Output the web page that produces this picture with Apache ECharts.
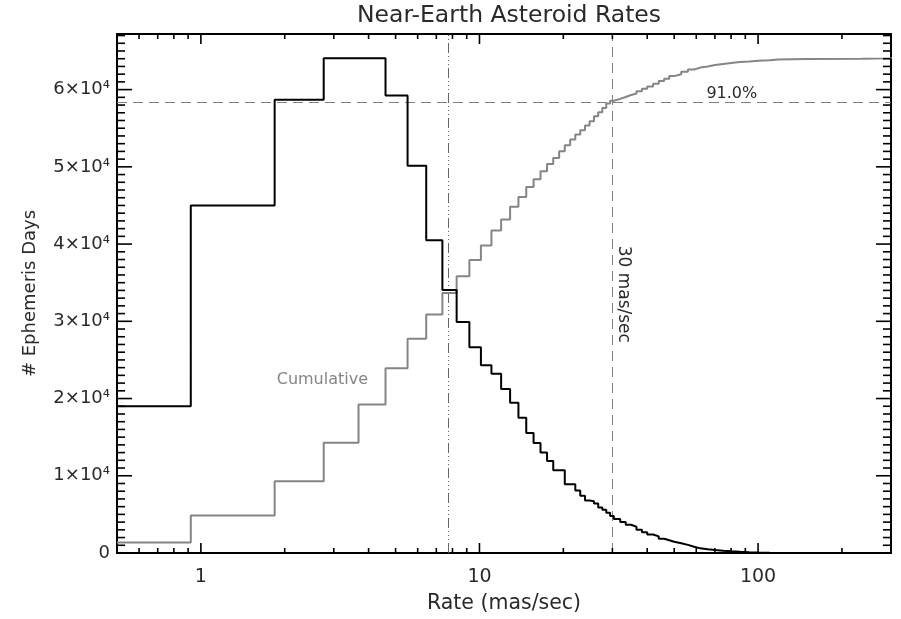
<!DOCTYPE html>
<html>
<head>
<meta charset="utf-8">
<script src="https://cdn.jsdelivr.net/npm/echarts@6/dist/echarts.min.js"></script>
<style>html,body{margin:0;padding:0;background:#fff}#c{width:901px;height:619px}</style>
</head>
<body>
<div id="c"></div>
<script>
// ---- data ----
const titleText = 'Near-Earth Asteroid Rates';
const xTitle = 'Rate (mas/sec)';
const yTitle = '# Ephemeris Days';

// differential histogram (left bin edges, mas/sec) and counts
const histEdges = [0.5, 0.92, 1.84, 2.76, 3.68, 4.6, 5.52, 6.44, 7.36, 8.28, 9.2, 10.12, 11.04, 11.96, 12.88, 13.8, 14.72, 15.64, 16.56, 17.48, 18.4, 19.32, 20.24, 21.16, 22.08, 23.0, 23.92, 24.84, 25.76, 26.68, 27.6, 28.52, 29.44,
  30.36, 32, 33.5, 35, 36.6, 38.3, 40, 42, 44, 46, 48, 50, 53, 56, 59, 62, 66, 70, 75, 80, 86, 93, 100, 110];
const histCounts = [19000, 45000, 58700, 64050, 64050, 59250, 50150, 40500, 34050, 29900, 26650, 24300, 23200, 21250, 19450, 17500, 15550, 14250, 13000, 11900, 10700, 10700, 8900, 8900, 8100, 7400, 6800, 6700, 6400, 5900, 5600, 5200, 4800,
  4400, 4000, 3650, 3400, 3000, 2700, 2400, 2150, 1850, 1650, 1450, 1250, 1050, 800, 600, 480, 380, 300, 230, 160, 100, 70, 40, 0];

// cumulative curve (scaled), left edges and values
const cumEdges = [0.5, 0.92, 1.84, 2.76, 3.68, 4.6, 5.52, 6.44, 7.36, 8.28, 9.2, 10.12, 11.04, 11.96, 12.88, 13.8, 14.72, 15.64, 16.56, 17.48, 18.4, 19.32, 20.24, 21.16, 22.08, 23.0, 23.92, 24.84, 25.76, 26.68, 27.6, 28.52, 29.44,
  30.36, 32, 33.5, 35, 36.6, 38.3, 40, 42, 44, 46, 48, 50, 53, 56, 59, 62, 66, 70, 75, 80, 86, 93, 100, 110, 118, 150, 236, 300];
const cumValues = [1370, 4850, 9290, 14270, 19220, 23920, 27730, 30870, 33680, 35830, 37950, 39830, 41760, 43170, 44820, 46080, 47380, 48400, 49420, 50380, 51160, 52010, 52790, 53530, 54180, 54730, 55340, 55900, 56540, 57060, 57630, 58190, 58550,
  58800, 59050, 59300, 59500, 59800, 60100, 60400, 60750, 61100, 61400, 61750, 62000, 62300, 62600, 62850, 63000, 63180, 63330, 63450, 63560, 63650, 63740, 63810, 63900, 63960, 64000, 64070, 64200];

// reference lines
const medianRate = 7.72;
const limitRate = 30;
const limitLevel = 58300;

// axis ranges & ticks
const xMin = 0.5, xMax = 300;
const yMin = 0, yMax = 67200, yStep = 10000, yMinorStep = 1000;
const xMajorTicks = [1, 10, 100];
const xMinorTicks = [0.6, 0.7, 0.8, 0.9, 2, 3, 4, 5, 6, 7, 8, 9, 20, 30, 40, 50, 60, 70, 80, 90, 200];

// annotations
const annotTexts = ['91.0%', '30 mas/sec', 'Cumulative'];
const annotRates = [80.5, 30, 2.73];
const annotDays = [59400, 33500, 22460];

// ---- chart ----
const FONT = 'DejaVu Sans';
const TXT = '#2a2a2a';
const GRAY = '#858585';

// y tick values (major + minor) for the inward tick marks
const yTickVals = [];
for (let v = yMinorStep; v < yMax; v += yMinorStep) yTickVals.push(v);

const chart = echarts.init(document.getElementById('c'), null, {renderer: 'canvas'});

function xAxisCfg(pos, showLabels) {
  return {
    type: 'log', logBase: 10, min: xMin, max: xMax, position: pos,
    axisLine: {show: true, onZero: false, lineStyle: {color: '#000', width: 2}},
    axisTick: {show: false}, minorTick: {show: false}, splitLine: {show: false},
    axisLabel: {show: showLabels, showMinLabel: false, showMaxLabel: false, color: TXT, fontSize: 19, fontFamily: FONT, margin: 15},
    name: showLabels ? xTitle : '',
    nameLocation: 'middle', nameGap: 40,
    nameTextStyle: {color: TXT, fontSize: 20.5, fontFamily: FONT}
  };
}
function yAxisCfg(pos, showLabels) {
  return {
    type: 'value', min: yMin, max: yMax, interval: yStep, position: pos,
    axisLine: {show: true, onZero: false, lineStyle: {color: '#000', width: 2}},
    axisTick: {show: false}, minorTick: {show: false}, splitLine: {show: false},
    axisLabel: {show: showLabels, showMaxLabel: false, color: TXT, fontSize: 18, fontFamily: FONT, margin: 7,
      formatter: v => v === 0 ? '0' : (v / 10000) + '×10⁴'},
    name: showLabels ? yTitle : '',
    nameLocation: 'middle', nameGap: 78,
    nameTextStyle: {color: TXT, fontSize: 18, fontFamily: FONT}
  };
}

function tickLine(x1, y1, x2, y2) {
  return {type: 'line', shape: {x1: x1, y1: y1, x2: x2, y2: y2}, style: {stroke: '#000', lineWidth: 1.6, fill: null}};
}

const option = {
  animation: false,
  backgroundColor: '#fff',
  textStyle: {fontFamily: FONT},
  title: {
    text: titleText, left: 504, textAlign: 'center', top: -1,
    textStyle: {fontSize: 23.5, fontWeight: 'normal', color: TXT, fontFamily: FONT}
  },
  grid: {left: 117, top: 34, width: 774, height: 520, containLabel: false},
  xAxis: [xAxisCfg('bottom', true), xAxisCfg('top', false)],
  yAxis: [yAxisCfg('left', true), yAxisCfg('right', false)],
  series: [
    {
      type: 'line', step: 'end', xAxisIndex: 0, yAxisIndex: 0,
      data: cumEdges.map((e, i) => [e, cumValues[i]]),
      symbol: 'none', clip: true, z: 3,
      lineStyle: {color: GRAY, width: 2},
      markLine: {
        silent: true, symbol: 'none', label: {show: false}, z: 2,
        data: [
          {xAxis: medianRate, lineStyle: {color: '#666', width: 1, type: [10, 3, 1, 3, 1, 3, 1, 3]}},
          {xAxis: limitRate, lineStyle: {color: '#808080', width: 1, type: [10, 6]}},
          {yAxis: limitLevel, lineStyle: {color: '#808080', width: 1, type: [10, 6]}}
        ]
      }
    },
    {
      type: 'line', step: 'end', xAxisIndex: 0, yAxisIndex: 0,
      data: histEdges.map((e, i) => [e, histCounts[i]]),
      symbol: 'none', clip: true, z: 4,
      lineStyle: {color: '#000', width: 2}
    },
    {
      // x-axis tick marks (bottom and top), inward
      type: 'custom', xAxisIndex: 0, yAxisIndex: 0, silent: true, clip: false, z: 10,
      data: xMajorTicks.concat(xMinorTicks).map(v => [v, yMin]),
      renderItem: (params, api) => {
        const x = api.coord([api.value(0), yMin])[0];
        const yb = api.coord([xMin, yMin])[1];
        const yt = api.coord([xMin, yMax])[1];
        const len = params.dataIndex < xMajorTicks.length ? 10 : 5;
        return {type: 'group', children: [
          tickLine(x, yb, x, yb - len),
          tickLine(x, yt, x, yt + len)
        ]};
      }
    },
    {
      // y-axis tick marks (left and right), inward
      type: 'custom', xAxisIndex: 0, yAxisIndex: 0, silent: true, clip: false, z: 10,
      data: yTickVals.map(v => [xMin, v]),
      renderItem: (params, api) => {
        const val = api.value(1);
        const y = api.coord([xMin, val])[1];
        const xl = api.coord([xMin, yMin])[0];
        const xr = api.coord([xMax, yMin])[0];
        const len = (Math.round(val) % yStep === 0) ? 15 : 8;
        return {type: 'group', children: [
          tickLine(xl, y, xl + len, y),
          tickLine(xr, y, xr - len, y)
        ]};
      }
    },
    {
      // text annotations
      type: 'custom', xAxisIndex: 0, yAxisIndex: 0, silent: true, clip: false, z: 6,
      data: annotRates.map((r, i) => [r, annotDays[i]]),
      renderItem: (params, api) => {
        const i = params.dataIndex;
        const p = api.coord([api.value(0), api.value(1)]);
        if (i === 0) {
          return {type: 'text', x: p[0], y: p[1], style: {text: annotTexts[i], fill: TXT, fontSize: 16, fontFamily: FONT, align: 'center', verticalAlign: 'middle'}};
        } else if (i === 1) {
          return {type: 'text', x: p[0] + 11, y: p[1], rotation: -Math.PI / 2, style: {text: annotTexts[i], fill: TXT, fontSize: 17, fontFamily: FONT, align: 'center', verticalAlign: 'middle'}};
        }
        return {type: 'text', x: p[0], y: p[1], style: {text: annotTexts[i], fill: GRAY, fontSize: 16, fontFamily: FONT, align: 'center', verticalAlign: 'middle'}};
      }
    }
  ]
};
chart.setOption(option);
</script>
</body>
</html>
